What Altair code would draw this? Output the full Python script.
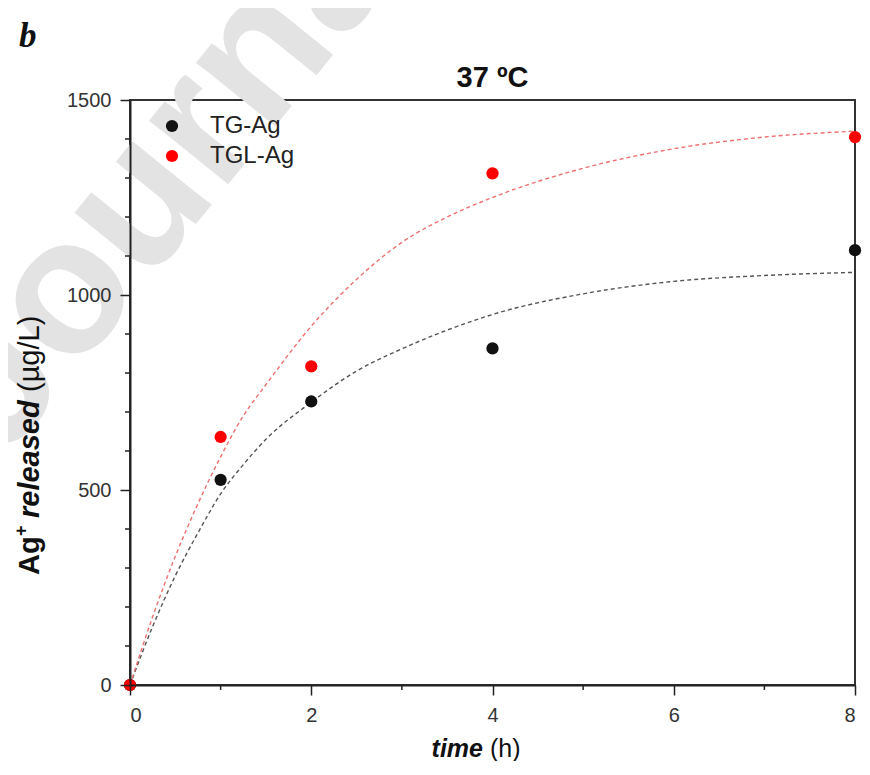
import altair as alt
import pandas as pd

# ---------------- data ----------------
series_names = ["TG-Ag", "TGL-Ag"]
time_points = [0, 1, 2, 4, 8]
tg_ag = [0, 526, 727, 863, 1115]
tgl_ag = [0, 636, 817, 1312, 1405]

# dashed fitted curves
fit_time = [0, 0.25, 0.5, 0.75, 1, 1.25, 1.5, 2, 2.5, 3, 3.5, 4, 5, 6, 7, 8]
tg_fit = [0, 150, 280, 390, 490, 565, 630, 725, 805, 862, 910, 950, 1003, 1035, 1050, 1058]
tgl_fit = [0, 175, 330, 465, 585, 690, 770, 920, 1040, 1135, 1200, 1250, 1325, 1375, 1405, 1420]

x_ticks = [0, 2, 4, 6, 8]
x_minor = [1, 3, 5, 7]
y_ticks = [0, 500, 1000, 1500]
y_minor = [100, 200, 300, 400, 600, 700, 800, 900, 1100, 1200, 1300, 1400]

point_colors = ["#111111", "#ff0000"]
curve_colors = ["#555555", "#ee7070"]

FONT = "Liberation Sans"
W, H = 725, 585

pts = pd.DataFrame({
    "time": time_points * 2,
    "value": tg_ag + tgl_ag,
    "series": [series_names[0]] * len(time_points) + [series_names[1]] * len(time_points),
})
fits = pd.DataFrame({
    "time": fit_time * 2,
    "value": tg_fit + tgl_fit,
    "series": [series_names[0]] * len(fit_time) + [series_names[1]] * len(fit_time),
})

xs = alt.Scale(domain=[0, 8], nice=False)
ys = alt.Scale(domain=[0, 1500], nice=False)

x_axis = alt.Axis(values=x_ticks, title=None, labelFontSize=20, labelFont=FONT,
                  labelColor="#333", tickSize=10, tickColor="#222", tickWidth=1.5,
                  domainColor="#222", domainWidth=2, labelPadding=10, grid=False,
                  format="d", zindex=1)
y_axis = alt.Axis(values=y_ticks, title=None, labelFontSize=20, labelFont=FONT,
                  labelColor="#333", tickSize=10, tickColor="#222", tickWidth=1.5,
                  domainColor="#222", domainWidth=2, labelPadding=9, grid=False,
                  format="d", zindex=1)

one = pd.DataFrame({"t": [""]})

watermark = alt.Chart(one).mark_text(
    text="Journal Pre-proof", font=FONT, fontWeight="bold", fontSize=192,
    color="#e3e3e3", angle=309, align="left", baseline="alphabetic"
).encode(x=alt.value(-125), y=alt.value(360))

curves = alt.Chart(fits).mark_line(strokeDash=[4, 3], strokeWidth=1.4, interpolate="monotone").encode(
    x=alt.X("time:Q", scale=xs, axis=x_axis),
    y=alt.Y("value:Q", scale=ys, axis=y_axis),
    stroke=alt.Stroke("series:N", scale=alt.Scale(domain=series_names, range=curve_colors), legend=None),
)

points = alt.Chart(pts).mark_circle(size=150, opacity=1).encode(
    x=alt.X("time:Q", scale=xs),
    y=alt.Y("value:Q", scale=ys),
    color=alt.Color("series:N", scale=alt.Scale(domain=series_names, range=point_colors),
                    legend=alt.Legend(orient="none", legendX=30, legendY=14, title=None,
                                      labelFontSize=24, labelFont=FONT, labelColor="#222",
                                      symbolSize=150, symbolType="circle", labelOffset=26,
                                      rowPadding=6, padding=0, symbolStrokeWidth=0)),
)

xminor = alt.Chart(pd.DataFrame({"m": x_minor})).mark_rule(color="#222", strokeWidth=1.5).encode(
    x=alt.X("m:Q", scale=xs), y=alt.value(H), y2=alt.value(H + 5))
yminor = alt.Chart(pd.DataFrame({"m": y_minor})).mark_rule(color="#222", strokeWidth=1.5).encode(
    y=alt.Y("m:Q", scale=ys), x=alt.value(-5), x2=alt.value(0))

panel_label = alt.Chart(one).mark_text(
    text="b", font="Liberation Serif", fontWeight="bold", fontStyle="italic", fontSize=35,
    color="#111", align="left", baseline="alphabetic").encode(x=alt.value(-111), y=alt.value(-53))

title = alt.Chart(one).mark_text(
    text="37 ºC", font=FONT, fontWeight="bold", fontSize=29, color="#111",
    align="center", baseline="alphabetic").encode(x=alt.value(W / 2), y=alt.value(-13))

xt1 = alt.Chart(one).mark_text(
    text="time", font=FONT, fontWeight="bold", fontStyle="italic", fontSize=25, color="#111",
    align="right", baseline="alphabetic").encode(x=alt.value(353), y=alt.value(657))
xt2 = alt.Chart(one).mark_text(
    text="(h)", font=FONT, fontSize=25, color="#111",
    align="left", baseline="alphabetic").encode(x=alt.value(360), y=alt.value(657))

YX = -91
YFS = 29
yt1 = alt.Chart(one).mark_text(
    text="Ag", font=FONT, fontWeight="bold", fontSize=YFS, color="#111", angle=270,
    align="left", baseline="alphabetic").encode(x=alt.value(YX), y=alt.value(475))
yt2 = alt.Chart(one).mark_text(
    text="+", font=FONT, fontWeight="bold", fontSize=18, color="#111", angle=270,
    align="left", baseline="alphabetic").encode(x=alt.value(YX - 12), y=alt.value(436))
yt3 = alt.Chart(one).mark_text(
    text="released", font=FONT, fontWeight="bold", fontStyle="italic", fontSize=YFS, color="#111",
    angle=270, align="left", baseline="alphabetic").encode(x=alt.value(YX), y=alt.value(418))
yt4 = alt.Chart(one).mark_text(
    text="(µg/L)", font=FONT, fontSize=YFS, color="#111", angle=270,
    align="left", baseline="alphabetic").encode(x=alt.value(YX), y=alt.value(292))

chart = alt.layer(
    watermark, curves, points, xminor, yminor, panel_label, title, xt1, xt2, yt1, yt2, yt3, yt4
).resolve_scale(color="independent", stroke="independent").properties(
    width=W, height=H,
    autosize=alt.AutoSizeParams(type="none"),
    padding={"left": 122, "top": 92, "right": 7, "bottom": 76},
).configure_view(stroke="#333", strokeWidth=2)

chart.save("out.html", embed_options={"renderer": "svg", "actions": False})
